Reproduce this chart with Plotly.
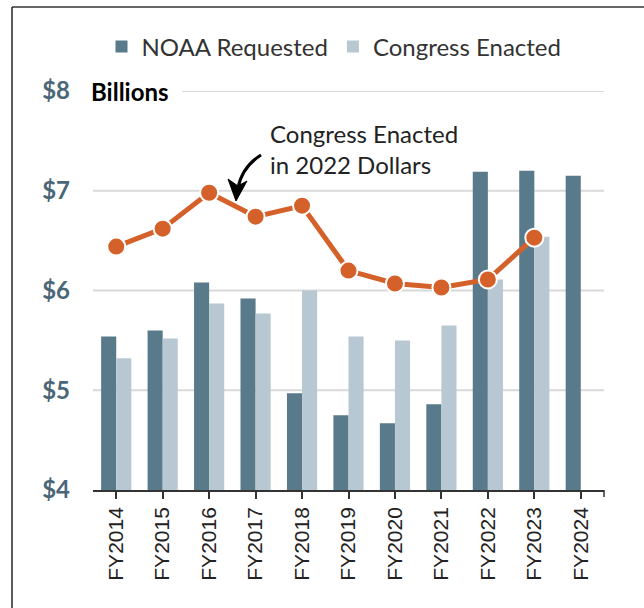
import plotly.graph_objects as go

years = ["FY2014", "FY2015", "FY2016", "FY2017", "FY2018", "FY2019",
         "FY2020", "FY2021", "FY2022", "FY2023", "FY2024"]
noaa_requested = [5.54, 5.60, 6.08, 5.92, 4.97, 4.75, 4.67, 4.86, 7.19, 7.20, 7.15]
congress_enacted = [5.32, 5.52, 5.87, 5.77, 6.00, 5.54, 5.50, 5.65, 6.11, 6.54, None]
enacted_2022_dollars = [6.44, 6.62, 6.98, 6.74, 6.85, 6.20, 6.07, 6.03, 6.11, 6.53, None]
y_tick_vals = [4, 5, 6, 7, 8]
y_tick_text = ["$4", "$5", "$6", "$7", "$8"]

W, H = 644, 608
L, R, T, B = 93, 40, 91, 118
pw, ph = W - L - R, H - T - B


def px(xp):
    return (xp - L) / pw


def py(yp):
    return (H - B - yp) / ph


DARK = "#587a8a"
LIGHT = "#b7c8d2"
ORANGE = "#d5612a"
FONT = "Lato"

fig = go.Figure()
fig.add_trace(go.Bar(x=years, y=noaa_requested, name="NOAA Requested",
                     marker=dict(color=DARK, line=dict(width=0)), base=0))
fig.add_trace(go.Bar(x=years, y=congress_enacted, name="Congress Enacted",
                     marker=dict(color=LIGHT, line=dict(width=0)), base=0))
fig.add_trace(go.Scatter(x=years, y=enacted_2022_dollars, mode="lines+markers",
                         name="Congress Enacted in 2022 Dollars", showlegend=False,
                         line=dict(color=ORANGE, width=5),
                         marker=dict(size=18, color=ORANGE, line=dict(color="white", width=2))))

shapes = []
for v in y_tick_vals[1:4]:
    shapes.append(dict(type="line", xref="paper", yref="y", x0=0, x1=1, y0=v, y1=v,
                       line=dict(color="#d9d9d9", width=2), layer="below"))
shapes.append(dict(type="line", xref="paper", yref="y", x0=px(182), x1=1, y0=8, y1=8,
                   line=dict(color="#d9d9d9", width=2), layer="below"))
# end tick at right of axis
shapes.append(dict(type="line", xref="paper", yref="paper", x0=1, x1=1, y0=0, y1=py(H - B + 7),
                   line=dict(color="#333333", width=1.5)))
# frame
shapes.append(dict(type="line", xref="paper", yref="paper",
                   x0=px(12), x1=px(12), y0=py(H), y1=py(7),
                   line=dict(color="#333333", width=1.6)))
shapes.append(dict(type="line", xref="paper", yref="paper",
                   x0=px(12), x1=px(W), y0=py(7), y1=py(7),
                   line=dict(color="#333333", width=1.6)))
# curved arrow
shapes.append(dict(type="path", xref="paper", yref="paper",
                   path=f"M {px(261)} {py(155)} Q {px(242)} {py(167)} {px(238)} {py(188)}",
                   line=dict(color="black", width=3)))
shapes.append(dict(type="path", xref="paper", yref="paper",
                   path=(f"M {px(236)} {py(201)} L {px(228)} {py(179)} L {px(238)} {py(186)} "
                         f"L {px(247)} {py(181)} Z"),
                   line=dict(color="black", width=1), fillcolor="black"))

fig.update_layout(
    width=W, height=H,
    margin=dict(l=L, r=R, t=T, b=B),
    paper_bgcolor="white", plot_bgcolor="white",
    barmode="group", bargap=0.35, bargroupgap=0,
    font=dict(family=FONT, color="#333333"),
    showlegend=True,
    legend=dict(orientation="h", x=px(334), xanchor="center", y=py(47), yanchor="middle",
                font=dict(family=FONT, size=24, color="#333333"),
                itemwidth=30, tracegroupgap=0, bgcolor="rgba(0,0,0,0)"),
    xaxis=dict(type="category", range=[-0.5, 10.5], showline=True, linecolor="#333333",
               linewidth=1.5, ticks="outside", ticklen=7, tickcolor="#333333", tickwidth=1.5,
               tickangle=-90, tickfont=dict(family="Liberation Sans", size=21, color="#222222"),
               showgrid=False, zeroline=False, fixedrange=True),
    yaxis=dict(range=[4, 8], tickvals=y_tick_vals, ticktext=y_tick_text, showgrid=False,
               zeroline=False, showline=False, ticks="", ticklabelstandoff=22,
               tickfont=dict(family=FONT, size=24, color="#4b6677", weight="bold"),
               fixedrange=True),
    shapes=shapes,
    annotations=[
        dict(text="<b>Billions</b>", xref="paper", yref="y", x=px(89), y=8,
             xanchor="left", yanchor="middle", showarrow=False,
             font=dict(family=FONT, size=24, color="black")),
        dict(text="Congress Enacted<br>in 2022 Dollars", xref="paper", yref="paper",
             x=px(268), y=py(117), xanchor="left", yanchor="top", align="left",
             showarrow=False, font=dict(family=FONT, size=24, color="#222222")),
    ],
)

fig.write_html("out.html", config={"displayModeBar": False},
               post_script="document.body.style.margin='0';")
